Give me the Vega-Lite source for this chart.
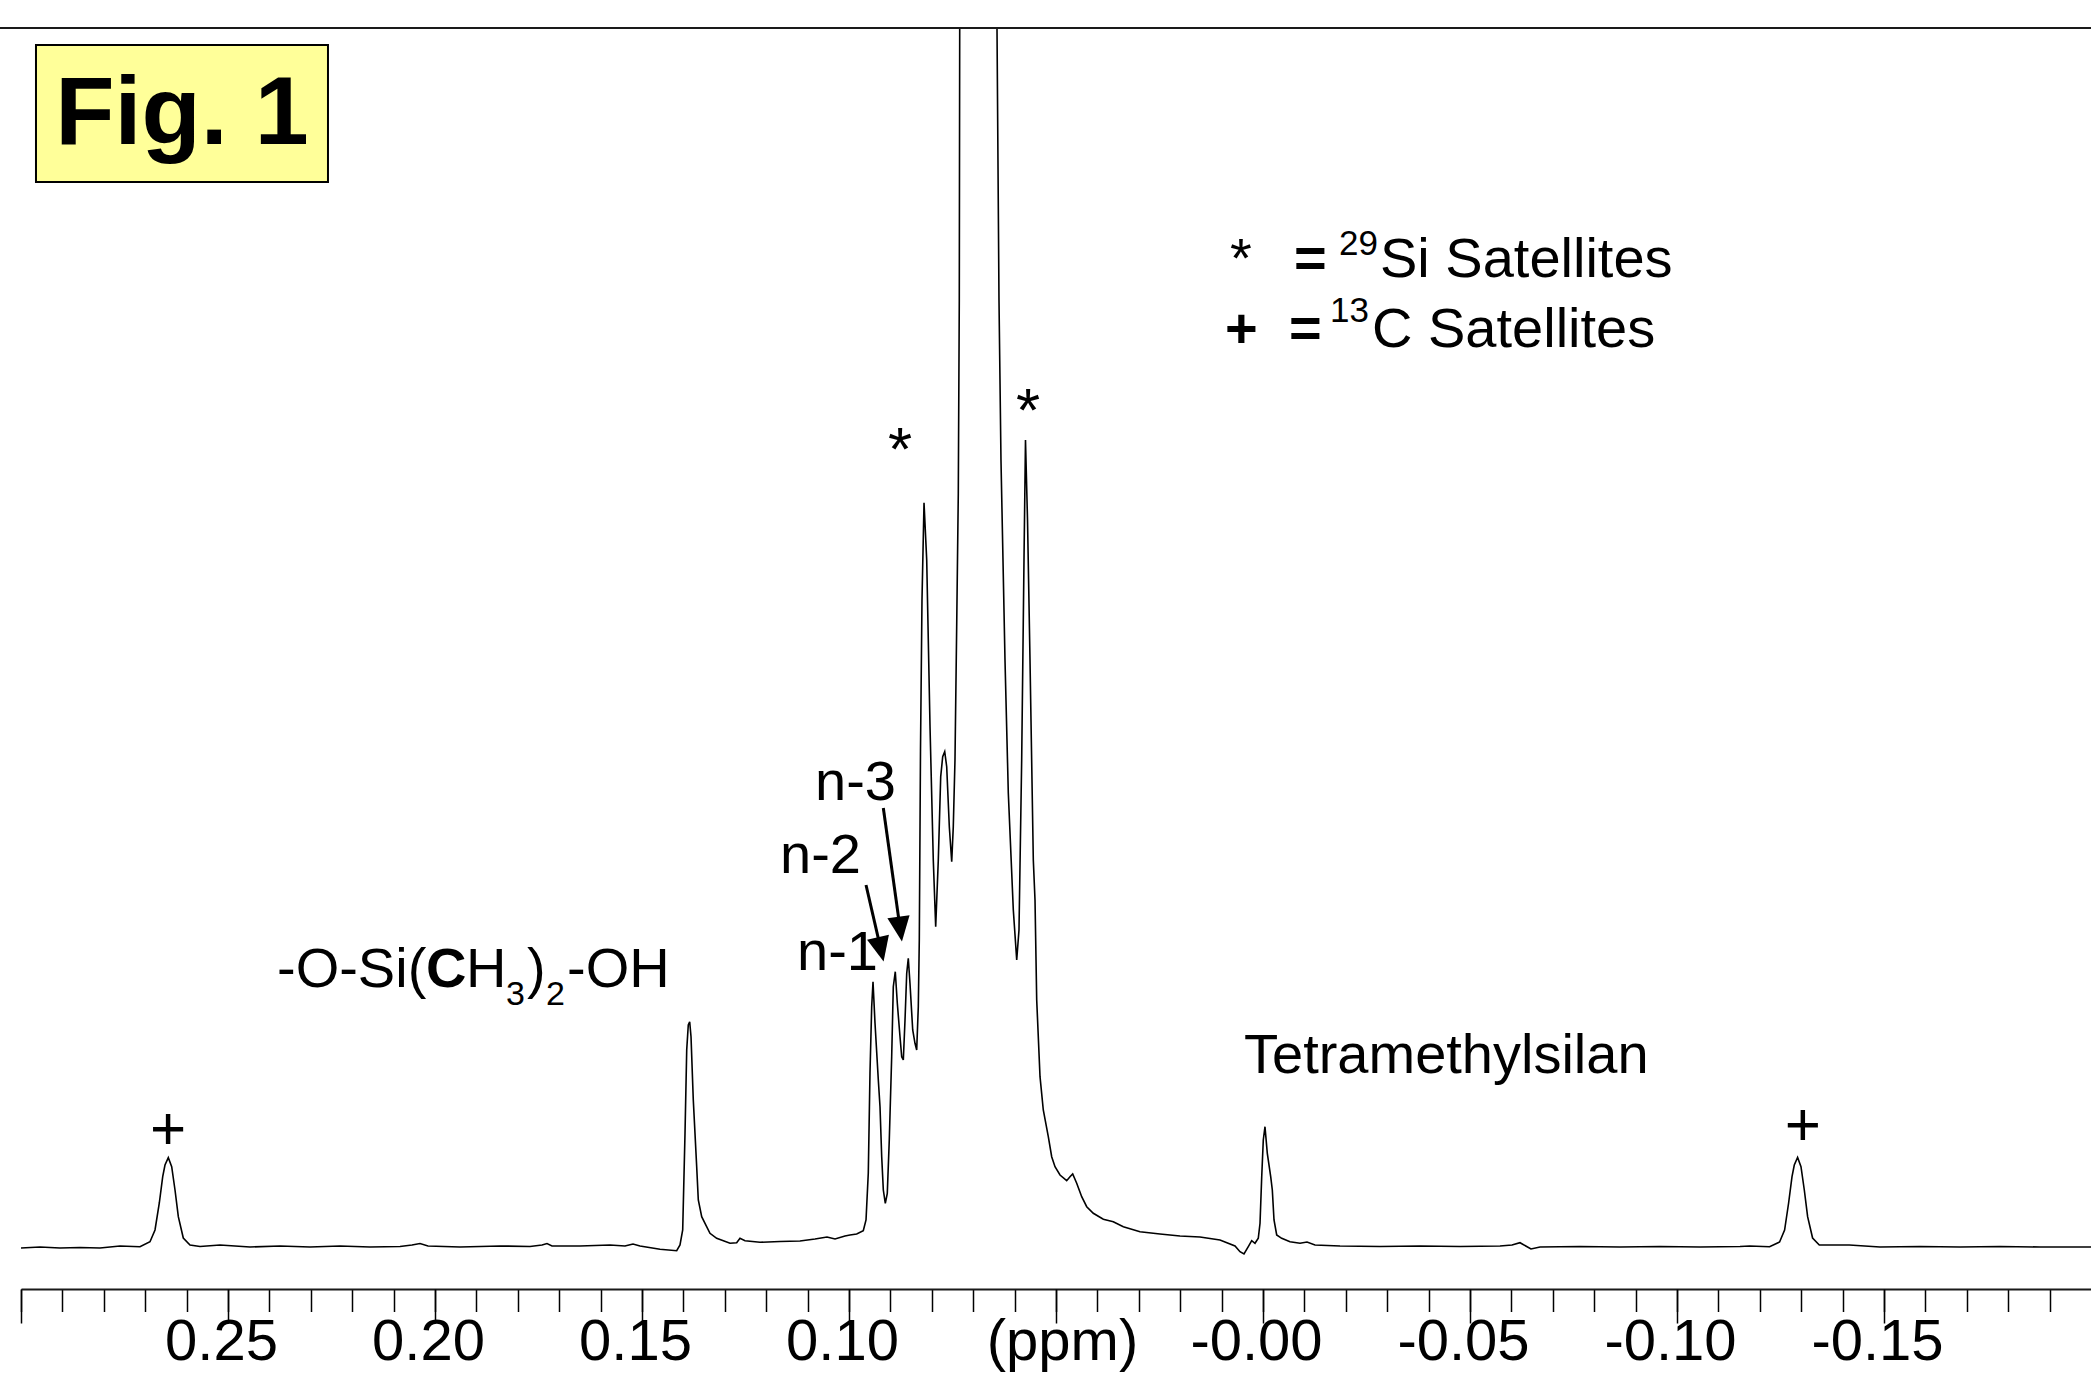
{
  "$schema": "https://vega.github.io/schema/vega-lite/v6.json",
  "width": 2070,
  "height": 1261,
  "autosize": "none",
  "padding": {"left": 21, "top": 28, "right": 0, "bottom": 85},
  "background": "white",
  "config": {"view": {"stroke": null}, "text": {"font": "Liberation Sans", "color": "black"}},
  "datasets": {
    "spectrum": [
      {"ppm":0.3,"intensity":0},{"ppm":0.29541,"intensity":1},{"ppm":0.29058,"intensity":0},{"ppm":0.28575,"intensity":0.5},{"ppm":0.28092,"intensity":0},{"ppm":0.27609,"intensity":2},{"ppm":0.27126,"intensity":1.3},{"ppm":0.26884,"intensity":6.3},{"ppm":0.26763,"intensity":18},{"ppm":0.26659,"intensity":45},{"ppm":0.26577,"intensity":71.3},{"ppm":0.26522,"intensity":83},{"ppm":0.26442,"intensity":90.3},{"ppm":0.2636,"intensity":81.3},{"ppm":0.2628,"intensity":58},{"ppm":0.262,"intensity":31.3},{"ppm":0.2608,"intensity":10},{"ppm":0.25918,"intensity":3},{"ppm":0.25676,"intensity":1.5},{"ppm":0.25193,"intensity":3},{"ppm":0.24469,"intensity":1},{"ppm":0.23744,"intensity":2},{"ppm":0.23019,"intensity":1},{"ppm":0.22295,"intensity":2},{"ppm":0.2157,"intensity":1},{"ppm":0.20845,"intensity":1.5},{"ppm":0.20556,"intensity":3},{"ppm":0.20362,"intensity":4.5},{"ppm":0.20169,"intensity":2},{"ppm":0.19396,"intensity":1},{"ppm":0.1843,"intensity":2},{"ppm":0.17705,"intensity":1.5},{"ppm":0.17415,"intensity":3},{"ppm":0.17295,"intensity":4.5},{"ppm":0.17174,"intensity":2},{"ppm":0.16498,"intensity":2},{"ppm":0.15773,"intensity":3},{"ppm":0.15411,"intensity":2},{"ppm":0.15217,"intensity":4},{"ppm":0.15048,"intensity":2},{"ppm":0.14565,"intensity":-1.3},{"ppm":0.14162,"intensity":-2.7},{"ppm":0.14082,"intensity":3},{"ppm":0.14017,"intensity":18},{"ppm":0.13961,"intensity":115},{"ppm":0.1392,"intensity":198},{"ppm":0.13882,"intensity":223},{"ppm":0.13848,"intensity":226.3},{"ppm":0.13816,"intensity":211.3},{"ppm":0.13761,"intensity":148},{"ppm":0.13679,"intensity":81.3},{"ppm":0.1364,"intensity":48},{"ppm":0.13558,"intensity":31.3},{"ppm":0.13478,"intensity":24.7},{"ppm":0.13358,"intensity":14.7},{"ppm":0.13196,"intensity":9.7},{"ppm":0.12874,"intensity":4.7},{"ppm":0.12713,"intensity":5.3},{"ppm":0.12633,"intensity":9.7},{"ppm":0.12512,"intensity":7.3},{"ppm":0.1215,"intensity":5.7},{"ppm":0.11667,"intensity":6.5},{"ppm":0.11184,"intensity":7},{"ppm":0.10821,"intensity":9},{"ppm":0.10531,"intensity":11},{"ppm":0.10338,"intensity":9},{"ppm":0.10097,"intensity":12},{"ppm":0.09976,"intensity":13},{"ppm":0.09814,"intensity":14},{"ppm":0.09655,"intensity":17.3},{"ppm":0.09589,"intensity":28},{"ppm":0.09534,"intensity":75},{"ppm":0.09493,"intensity":175},{"ppm":0.09452,"intensity":241.3},{"ppm":0.0942,"intensity":266.3},{"ppm":0.09372,"intensity":225},{"ppm":0.09292,"intensity":168},{"ppm":0.09251,"intensity":141.3},{"ppm":0.0921,"intensity":91.3},{"ppm":0.09171,"intensity":58},{"ppm":0.09123,"intensity":44.7},{"ppm":0.09075,"intensity":54.7},{"ppm":0.09027,"intensity":108},{"ppm":0.08969,"intensity":191.3},{"ppm":0.0893,"intensity":261.3},{"ppm":0.08882,"intensity":276.3},{"ppm":0.08833,"intensity":244.7},{"ppm":0.08768,"intensity":211.3},{"ppm":0.08727,"intensity":191.3},{"ppm":0.08688,"intensity":188},{"ppm":0.08647,"intensity":228},{"ppm":0.08606,"intensity":274.7},{"ppm":0.08568,"intensity":289.7},{"ppm":0.08527,"intensity":264.7},{"ppm":0.08461,"intensity":218},{"ppm":0.08406,"intensity":204.7},{"ppm":0.08365,"intensity":198},{"ppm":0.08326,"intensity":241.3},{"ppm":0.08302,"intensity":308},{"ppm":0.08273,"intensity":498},{"ppm":0.08237,"intensity":648},{"ppm":0.08188,"intensity":745.3},{"ppm":0.08123,"intensity":688},{"ppm":0.08043,"intensity":521.3},{"ppm":0.07964,"intensity":388},{"ppm":0.07906,"intensity":321.3},{"ppm":0.07843,"intensity":388},{"ppm":0.07785,"intensity":471.3},{"ppm":0.07737,"intensity":491.3},{"ppm":0.07688,"intensity":496.3},{"ppm":0.0764,"intensity":481.3},{"ppm":0.07577,"intensity":421.3},{"ppm":0.07519,"intensity":386.3},{"ppm":0.07481,"intensity":421.3},{"ppm":0.0744,"intensity":488},{"ppm":0.07399,"intensity":621.3},{"ppm":0.0736,"intensity":754.7},{"ppm":0.07336,"intensity":948},{"ppm":0.07319,"intensity":1400},{"ppm":0.06457,"intensity":1400},{"ppm":0.06377,"intensity":948},{"ppm":0.06329,"intensity":788},{"ppm":0.06232,"intensity":588},{"ppm":0.06152,"intensity":455},{"ppm":0.06031,"intensity":338},{"ppm":0.05949,"intensity":288},{"ppm":0.05894,"intensity":318},{"ppm":0.05829,"intensity":488},{"ppm":0.05773,"intensity":688},{"ppm":0.05737,"intensity":808},{"ppm":0.05688,"intensity":728},{"ppm":0.05628,"intensity":588},{"ppm":0.05548,"intensity":388},{"ppm":0.05507,"intensity":348},{"ppm":0.05466,"intensity":248},{"ppm":0.05386,"intensity":171.3},{"ppm":0.05307,"intensity":138},{"ppm":0.05186,"intensity":111.3},{"ppm":0.05104,"intensity":91.3},{"ppm":0.05024,"intensity":81.3},{"ppm":0.04903,"intensity":73},{"ppm":0.04742,"intensity":67.3},{"ppm":0.04662,"intensity":71.3},{"ppm":0.04597,"intensity":74},{"ppm":0.045,"intensity":64.7},{"ppm":0.04379,"intensity":51.3},{"ppm":0.04258,"intensity":41.3},{"ppm":0.04099,"intensity":34.7},{"ppm":0.03857,"intensity":28.7},{"ppm":0.03616,"intensity":26.3},{"ppm":0.03374,"intensity":21.3},{"ppm":0.02971,"intensity":16.3},{"ppm":0.02488,"intensity":14},{"ppm":0.02005,"intensity":12},{"ppm":0.01522,"intensity":11},{"ppm":0.01039,"intensity":8},{"ppm":0.00676,"intensity":2},{"ppm":0.00556,"intensity":-3.7},{"ppm":0.00459,"intensity":-6},{"ppm":0.00355,"intensity":1.3},{"ppm":0.00273,"intensity":7.3},{"ppm":0.00193,"intensity":4.7},{"ppm":0.00114,"intensity":9.7},{"ppm":0.00072,"intensity":24.7},{"ppm":0.00031,"intensity":71.3},{"ppm":-0.00007,"intensity":108},{"ppm":-0.00048,"intensity":121.3},{"ppm":-0.00104,"intensity":94.7},{"ppm":-0.00186,"intensity":71.3},{"ppm":-0.00225,"intensity":58},{"ppm":-0.00266,"intensity":28},{"ppm":-0.00331,"intensity":13},{"ppm":-0.00452,"intensity":9.7},{"ppm":-0.00652,"intensity":6.3},{"ppm":-0.00894,"intensity":4.7},{"ppm":-0.01063,"intensity":6},{"ppm":-0.01256,"intensity":3},{"ppm":-0.0186,"intensity":2},{"ppm":-0.02826,"intensity":1.5},{"ppm":-0.03792,"intensity":2},{"ppm":-0.04759,"intensity":1.5},{"ppm":-0.05725,"intensity":2},{"ppm":-0.06014,"intensity":3},{"ppm":-0.06208,"intensity":5.3},{"ppm":-0.06473,"intensity":-1},{"ppm":-0.06691,"intensity":1},{"ppm":-0.07657,"intensity":1.5},{"ppm":-0.08623,"intensity":1},{"ppm":-0.09589,"intensity":1.5},{"ppm":-0.10556,"intensity":1},{"ppm":-0.11522,"intensity":1.5},{"ppm":-0.11754,"intensity":2},{"ppm":-0.12237,"intensity":1.3},{"ppm":-0.12478,"intensity":6},{"ppm":-0.12599,"intensity":18},{"ppm":-0.12696,"intensity":45},{"ppm":-0.12778,"intensity":71.3},{"ppm":-0.12833,"intensity":83},{"ppm":-0.12913,"intensity":90.5},{"ppm":-0.12995,"intensity":81.3},{"ppm":-0.13075,"intensity":58},{"ppm":-0.13155,"intensity":31.3},{"ppm":-0.13275,"intensity":10},{"ppm":-0.13437,"intensity":3},{"ppm":-0.14162,"intensity":3},{"ppm":-0.14903,"intensity":1},{"ppm":-0.1587,"intensity":1.5},{"ppm":-0.16836,"intensity":1},{"ppm":-0.17802,"intensity":1.5},{"ppm":-0.18768,"intensity":1},{"ppm":-0.2,"intensity":1}
    ],
    "title": [{"text": "Fig. 1", "ppm": 0.26111, "intensity": 1104}],
    "labels": [
      {"text": "-O-Si(", "ppm": 0.23816, "intensity": 261},
      {"text": "H", "ppm": 0.19251, "intensity": 261},
      {"text": ")", "ppm": 0.17778, "intensity": 261},
      {"text": "-OH", "ppm": 0.16812, "intensity": 261},
      {"text": "Tetramethylsilan", "ppm": 0.00459, "intensity": 175},
      {"text": "*", "ppm": 0.00797, "intensity": 971},
      {"text": "Si Satellites", "ppm": -0.02826, "intensity": 971},
      {"text": "C Satellites", "ppm": -0.02633, "intensity": 901}
    ],
    "boldLabels": [
      {"text": "C", "ppm": 0.20217, "intensity": 261},
      {"text": "=", "ppm": -0.00749, "intensity": 971},
      {"text": "+", "ppm": 0.00918, "intensity": 901},
      {"text": "=", "ppm": -0.00628, "intensity": 901}
    ],
    "subscripts": [
      {"text": "3", "ppm": 0.18285, "intensity": 243},
      {"text": "2", "ppm": 0.17319, "intensity": 243}
    ],
    "superscripts": [
      {"text": "29", "ppm": -0.02778, "intensity": 993},
      {"text": "13", "ppm": -0.0256, "intensity": 926}
    ],
    "nLabels": [
      {"text": "n-3", "ppm": 0.10821, "intensity": 448},
      {"text": "n-2", "ppm": 0.11667, "intensity": 375},
      {"text": "n-1", "ppm": 0.11256, "intensity": 278}
    ],
    "markers": [
      {"text": "*", "ppm": 0.08768, "intensity": 778},
      {"text": "*", "ppm": 0.05676, "intensity": 817},
      {"text": "+", "ppm": 0.26449, "intensity": 99},
      {"text": "+", "ppm": -0.13043, "intensity": 103}
    ],
    "arrows": [
      {"label": "n-2", "ppm": 0.09589, "intensity": 363, "ppmEnd": 0.09285, "intensityEnd": 308.4},
      {"label": "n-3", "ppm": 0.09171, "intensity": 440, "ppmEnd": 0.08797, "intensityEnd": 328.8}
    ],
    "arrowheads": [
      {"label": "n-2", "ppm": 0.09232, "intensity": 298.7},
      {"label": "n-3", "ppm": 0.08763, "intensity": 318.9}
    ]
  },
  "resolve": {"axis": {"x": "independent", "y": "independent"}},
  "layer": [
    {
      "data": {"name": "spectrum"},
      "mark": {"type": "line", "color": "black", "strokeWidth": 1.6, "clip": true},
      "encoding": {
        "x": {"field": "ppm", "type": "quantitative",
          "scale": {"domain": [-0.2, 0.3], "reverse": true, "nice": false, "zero": false},
          "axis": {"orient": "bottom", "values": [0.3,0.29,0.28,0.27,0.26,0.25,0.24,0.23,0.22,0.21,0.2,0.19,0.18,0.17,0.16,0.15,0.14,0.13,0.12,0.11,0.1,0.09,0.08,0.07,0.06,0.05,0.04,0.03,0.02,0.01,0,-0.01,-0.02,-0.03,-0.04,-0.05,-0.06,-0.07,-0.08,-0.09,-0.1,-0.11,-0.12,-0.13,-0.14,-0.15,-0.16,-0.17,-0.18,-0.19],
            "tickSize": 22.5, "tickWidth": 1.5, "tickColor": "black", "labels": false, "domain": true, "domainColor": "#1a1a1a", "domainWidth": 2, "grid": false, "title": null}},
        "y": {"field": "intensity", "type": "quantitative", "scale": {"domain": [-41, 1220], "nice": false, "zero": false}, "axis": null}
      }
    },
    {
      "data": {"values": [{}]},
      "mark": {"type": "rule", "color": "#1a1a1a", "strokeWidth": 2},
      "encoding": {
        "x": {"datum": 0.3051, "type": "quantitative",
          "axis": {"orient": "bottom", "values": [0.3,0.25,0.2,0.15,0.1,0.05,0,-0.05,-0.1,-0.15],
            "tickSize": 34, "tickWidth": 1.5, "tickColor": "black", "domain": false, "grid": false, "title": null,
            "labelExpr": "datum.value == 0.05 ? '(ppm)' : datum.value == 0.3 ? '' : datum.value == 0 ? '-0.00' : (datum.value < 0 ? '-' : '') + format(abs(datum.value), '.2f')",
            "labelFont": "Liberation Sans", "labelFontSize": 58, "labelColor": "black", "labelPadding": -10,
            "labelOffset": {"expr": "datum.value == 0.05 ? 6 : -7"},
            "labelOverlap": false, "labelFlush": false, "labelBound": false}},
        "x2": {"datum": -0.2},
        "y": {"datum": 1220, "type": "quantitative", "axis": null}
      }
    },
    {
      "data": {"values": [{}]},
      "mark": {"type": "rect", "fill": "#FFFF99", "stroke": "black", "strokeWidth": 2},
      "encoding": {
        "x": {"datum": 0.29638, "type": "quantitative", "axis": null},
        "x2": {"datum": 0.22585},
        "y": {"datum": 1203, "type": "quantitative", "axis": null},
        "y2": {"datum": 1066}
      }
    },
    {
      "data": {"name": "title"},
      "mark": {"type": "text", "fontSize": 97, "fontWeight": "bold", "align": "center", "baseline": "alphabetic"},
      "encoding": {
        "x": {"field": "ppm", "type": "quantitative", "axis": null},
        "y": {"field": "intensity", "type": "quantitative", "axis": null},
        "text": {"field": "text"}
      }
    },
    {
      "data": {"name": "labels"},
      "mark": {"type": "text", "fontSize": 56, "align": "left", "baseline": "alphabetic"},
      "encoding": {
        "x": {"field": "ppm", "type": "quantitative", "axis": null},
        "y": {"field": "intensity", "type": "quantitative", "axis": null},
        "text": {"field": "text"}
      }
    },
    {
      "data": {"name": "boldLabels"},
      "mark": {"type": "text", "fontSize": 56, "fontWeight": "bold", "align": "left", "baseline": "alphabetic"},
      "encoding": {
        "x": {"field": "ppm", "type": "quantitative", "axis": null},
        "y": {"field": "intensity", "type": "quantitative", "axis": null},
        "text": {"field": "text"}
      }
    },
    {
      "data": {"name": "subscripts"},
      "mark": {"type": "text", "fontSize": 34, "align": "left", "baseline": "alphabetic"},
      "encoding": {
        "x": {"field": "ppm", "type": "quantitative", "axis": null},
        "y": {"field": "intensity", "type": "quantitative", "axis": null},
        "text": {"field": "text"}
      }
    },
    {
      "data": {"name": "superscripts"},
      "mark": {"type": "text", "fontSize": 35, "align": "right", "baseline": "alphabetic"},
      "encoding": {
        "x": {"field": "ppm", "type": "quantitative", "axis": null},
        "y": {"field": "intensity", "type": "quantitative", "axis": null},
        "text": {"field": "text"}
      }
    },
    {
      "data": {"name": "nLabels"},
      "mark": {"type": "text", "fontSize": 56, "align": "left", "baseline": "alphabetic"},
      "encoding": {
        "x": {"field": "ppm", "type": "quantitative", "axis": null},
        "y": {"field": "intensity", "type": "quantitative", "axis": null},
        "text": {"field": "text"}
      }
    },
    {
      "data": {"name": "markers"},
      "mark": {"type": "text", "fontSize": 62, "align": "center", "baseline": "alphabetic"},
      "encoding": {
        "x": {"field": "ppm", "type": "quantitative", "axis": null},
        "y": {"field": "intensity", "type": "quantitative", "axis": null},
        "text": {"field": "text"}
      }
    },
    {
      "data": {"name": "arrows"},
      "mark": {"type": "rule", "color": "black", "strokeWidth": 3},
      "encoding": {
        "x": {"field": "ppm", "type": "quantitative", "axis": null},
        "y": {"field": "intensity", "type": "quantitative", "axis": null},
        "x2": {"field": "ppmEnd"},
        "y2": {"field": "intensityEnd"}
      }
    },
    {
      "data": {"name": "arrowheads"},
      "transform": [{"filter": "datum.label == 'n-2'"}],
      "mark": {"type": "point", "shape": "M-0.9,-1L0.9,-1L0,1Z", "size": 620, "filled": true, "color": "black", "opacity": 1, "angle": 347},
      "encoding": {
        "x": {"field": "ppm", "type": "quantitative", "axis": null},
        "y": {"field": "intensity", "type": "quantitative", "axis": null}
      }
    },
    {
      "data": {"name": "arrowheads"},
      "transform": [{"filter": "datum.label == 'n-3'"}],
      "mark": {"type": "point", "shape": "M-0.9,-1L0.9,-1L0,1Z", "size": 620, "filled": true, "color": "black", "opacity": 1, "angle": 352},
      "encoding": {
        "x": {"field": "ppm", "type": "quantitative", "axis": null},
        "y": {"field": "intensity", "type": "quantitative", "axis": null}
      }
    }
  ]
}
